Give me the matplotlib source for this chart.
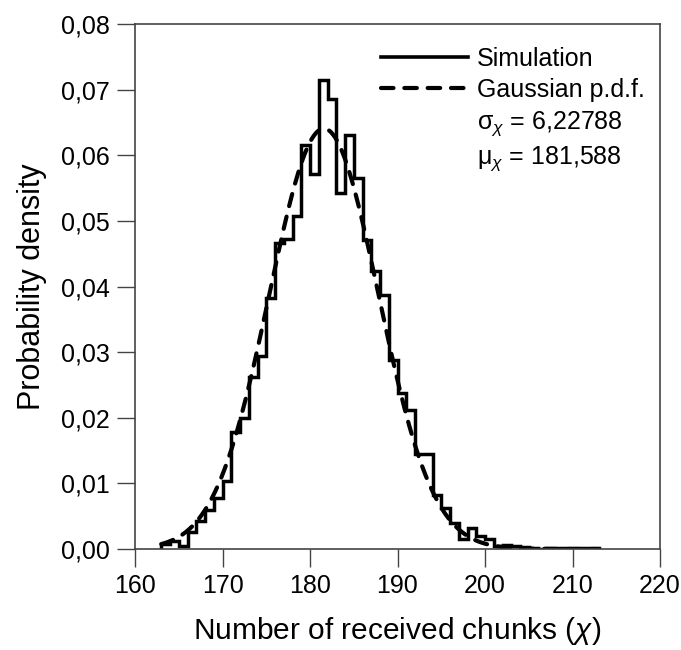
import numpy as np
import matplotlib
matplotlib.use("Agg")
import matplotlib.pyplot as plt
from matplotlib.lines import Line2D

plt.rcParams['font.family'] = ['Liberation Sans', 'DejaVu Sans']
plt.rcParams['mathtext.fontset'] = 'custom'
plt.rcParams['mathtext.rm'] = 'Liberation Sans'
plt.rcParams['mathtext.it'] = 'Liberation Sans:italic'
plt.rcParams['mathtext.bf'] = 'Liberation Sans:bold'

# Histogram (simulation), bin width 1, left edges 163..212
bin_edges = list(range(163, 214))
sim_density = [0.0008, 0.0012, 0.0005, 0.0026, 0.0042, 0.0059, 0.0077, 0.0103,
               0.0179, 0.0199, 0.0262, 0.0294, 0.0382, 0.0466, 0.0472, 0.0508,
               0.0616, 0.0572, 0.0714, 0.0686, 0.0543, 0.0631, 0.0566, 0.0471,
               0.0423, 0.0387, 0.0288, 0.0237, 0.0212, 0.0145, 0.0145, 0.0082,
               0.0062, 0.0040, 0.0015, 0.0032, 0.0020, 0.0015, 0.0005, 0.0006,
               0.0004, 0.0003, 0.0001, 0.0000, 0.0001, 0.0002, 0.0002, 0.0001,
               0.0001, 0.0001]

# Gaussian fit parameters (from legend)
mu_x = 181.588
sigma_x = 6.22788
gauss_range = (163, 213)

xticks = [160, 170, 180, 190, 200, 210, 220]
yticks = [0.00, 0.01, 0.02, 0.03, 0.04, 0.05, 0.06, 0.07, 0.08]
ytick_labels = ['0,00', '0,01', '0,02', '0,03', '0,04', '0,05', '0,06', '0,07', '0,08']

fig = plt.figure(figsize=(6.81, 6.5), dpi=100)
ax = fig.add_axes([135/681, 1 - 549/650, 525/681, 525/650])

ax.stairs(sim_density, bin_edges, color='black', linewidth=2.5, baseline=0)

gx = np.linspace(gauss_range[0], gauss_range[1], 400)
gy = np.exp(-0.5 * ((gx - mu_x) / sigma_x) ** 2) / (sigma_x * np.sqrt(2 * np.pi))
dash = (0, (3.0, 2.6))
ax.plot(gx, gy, color='black', linewidth=3.0, linestyle=dash, dash_capstyle='round')

ax.set_xlim(160, 220)
ax.set_ylim(0, 0.08)
ax.set_xticks(xticks)
ax.set_xticklabels([str(t) for t in xticks])
ax.set_yticks(yticks)
ax.set_yticklabels(ytick_labels)
ax.tick_params(axis='both', direction='out', length=13, width=1, color='#444444',
               labelsize=18, pad=5)
for s in ax.spines.values():
    s.set_color('#444444')
    s.set_linewidth(1.2)

ax.set_xlabel(r'Number of received chunks ($\mathit{\chi}$)', fontsize=21.5, labelpad=12)
ax.set_ylabel('Probability density', fontsize=22, labelpad=10)

handles = [
    Line2D([], [], color='black', linewidth=2.6),
    Line2D([], [], color='black', linewidth=3.0, linestyle=dash, dash_capstyle='round'),
    Line2D([], [], color='none'),
    Line2D([], [], color='none'),
]
labels = ['Simulation', 'Gaussian p.d.f.',
          r'$\mathrm{\sigma}_{\mathit{\chi}}$ = 6,22788',
          r'$\mathrm{\mu}_{\mathit{\chi}}$ = 181,588']
leg = ax.legend(handles, labels, loc='upper right', frameon=False, fontsize=18,
                handlelength=3.5, handletextpad=0.35, labelspacing=0.28,
                borderaxespad=0.2, bbox_to_anchor=(1.0, 0.985))

fig.savefig('out.png', dpi=100)
